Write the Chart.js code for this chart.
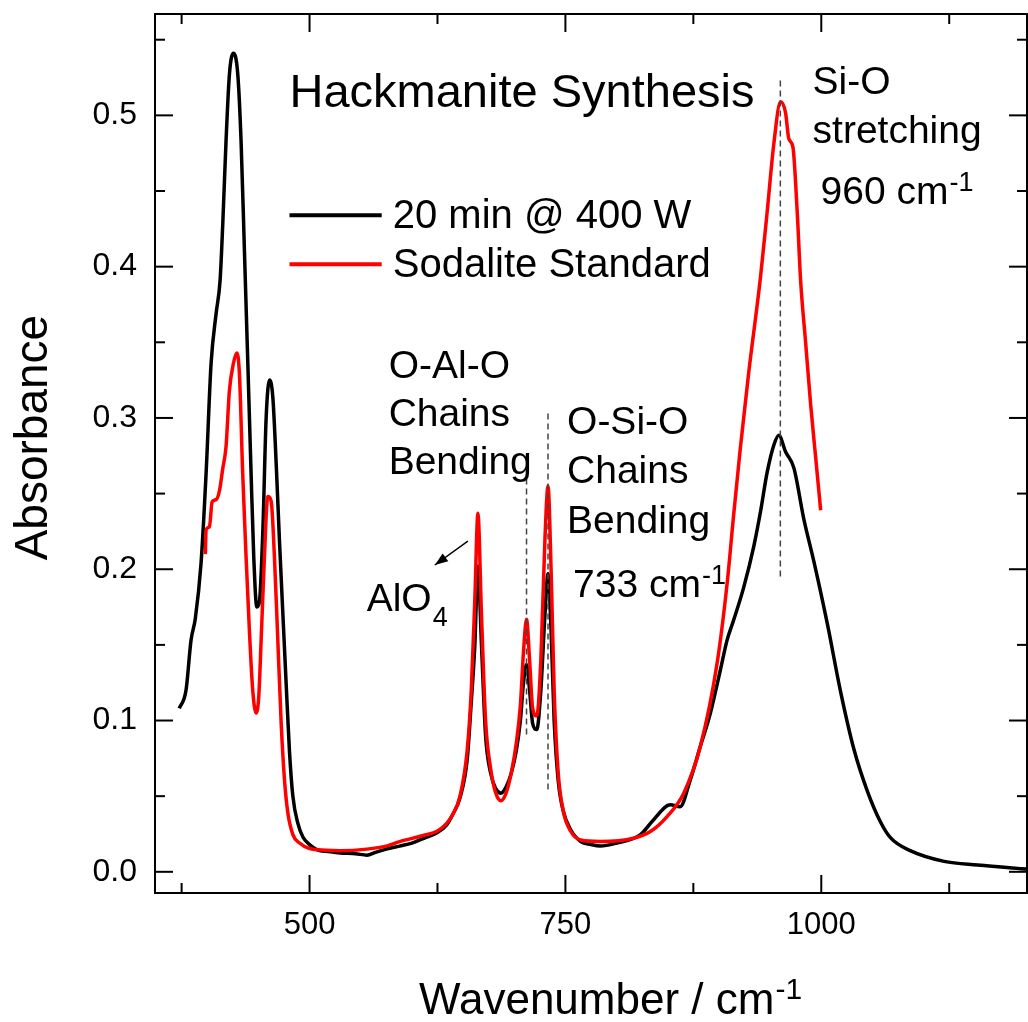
<!DOCTYPE html>
<html lang="en">
<head>
<meta charset="UTF-8">
<title>Hackmanite Synthesis</title>
<script src="https://cdn.jsdelivr.net/npm/chart.js"></script>
<style>
  html, body { margin: 0; padding: 0; background: #fff; }
  #wrap { width: 1028px; height: 1022px; }
</style>
</head>
<body>
<div id="wrap"><canvas id="chart"></canvas></div>
<script>
const FONT = "'Liberation Sans', Arial, sans-serif";

// 20 min @ 400 W (black)
const blackX = [372.7, 379.3, 384.2, 388.4, 394, 398.9, 403.8, 408.7, 412.6, 415.2, 418.4, 421.7, 425.6, 429.9, 433.1, 436.4, 439.7, 442.9, 445.5, 448.5, 451.1, 454.4, 457.6, 460.9, 464.1, 467.4, 470.6, 473.9, 477.2, 480.4, 483.7, 488.6, 493.5, 500, 509.8, 518, 530, 545, 556, 565, 575, 588, 600, 611, 625, 634, 640, 647, 654, 658, 661.5, 664.5, 668, 672, 677, 682, 687, 692, 697, 702, 706, 709, 712, 715, 718, 722, 726, 730, 733, 736, 739, 743, 748, 755, 765, 775, 784, 800, 823, 836, 852.5, 862, 872, 881.8, 891.6, 901.4, 907.9, 914.4, 924.2, 934, 940.6, 947.1, 953.6, 958.5, 965.1, 973.2, 983, 992.8, 1005.9, 1018.9, 1031.9, 1045, 1058, 1067.8, 1087.4, 1120, 1152.7, 1203.6];
const blackY = [0.108, 0.12, 0.153, 0.1675, 0.204, 0.263, 0.336, 0.369, 0.391, 0.428, 0.483, 0.527, 0.541, 0.527, 0.483, 0.41, 0.336, 0.263, 0.208, 0.175, 0.179, 0.226, 0.3, 0.325, 0.314, 0.27, 0.219, 0.171, 0.1235, 0.0795, 0.05, 0.032, 0.023, 0.018, 0.014, 0.0135, 0.0125, 0.012, 0.011, 0.013, 0.015, 0.017, 0.019, 0.022, 0.026, 0.031, 0.038, 0.049, 0.074, 0.112, 0.15, 0.202, 0.15, 0.09, 0.065, 0.055, 0.052, 0.056, 0.065, 0.08, 0.1, 0.125, 0.137, 0.12, 0.098, 0.094, 0.12, 0.17, 0.197, 0.16, 0.1, 0.06, 0.04, 0.028, 0.02, 0.018, 0.017, 0.019, 0.0244, 0.0343, 0.0443, 0.043, 0.0608, 0.0828, 0.1048, 0.1334, 0.153, 0.1664, 0.188, 0.215, 0.238, 0.264, 0.282, 0.2886, 0.2776, 0.267, 0.233, 0.205, 0.164, 0.119, 0.081, 0.0534, 0.0328, 0.0224, 0.0138, 0.0069, 0.0045, 0.0017];

// Sodalite Standard (red)
const redX = [398.2, 398.9, 402.2, 404.8, 408.7, 412, 415.2, 418.4, 421.7, 425.6, 428.9, 431.5, 434.7, 438, 441.2, 444.5, 447.8, 450.4, 452.7, 455.9, 459.2, 462.5, 465.7, 469, 472.3, 475.5, 478.8, 483.7, 490.2, 500, 516, 530, 556, 575, 588, 611, 625, 634, 640, 647, 654, 658, 661.5, 664.5, 668, 672, 677, 682, 687, 692, 697, 702, 706, 709, 712, 715, 718, 722, 726, 730, 733, 736, 739, 743, 748, 755, 765, 784, 816.6, 833, 849.3, 865.6, 881.8, 898.2, 907.9, 914.4, 920.9, 929.1, 940.6, 947.1, 953.6, 960.2, 965.1, 968.3, 972.3, 976.5, 979.8, 984.7, 989.6, 994.5, 999.4];
const redY = [0.21, 0.226, 0.228, 0.2445, 0.246, 0.252, 0.2665, 0.281, 0.318, 0.336, 0.343, 0.329, 0.263, 0.208, 0.16, 0.12, 0.105, 0.116, 0.153, 0.208, 0.248, 0.245, 0.208, 0.153, 0.098, 0.061, 0.039, 0.0246, 0.019, 0.0154, 0.0143, 0.014, 0.015, 0.017, 0.02, 0.024, 0.027, 0.032, 0.038, 0.05, 0.08, 0.12, 0.18, 0.237, 0.17, 0.1, 0.068, 0.052, 0.047, 0.052, 0.065, 0.085, 0.11, 0.145, 0.167, 0.14, 0.108, 0.103, 0.14, 0.22, 0.255, 0.2, 0.12, 0.065, 0.04, 0.027, 0.021, 0.02, 0.0222, 0.0266, 0.0365, 0.052, 0.0828, 0.1378, 0.19, 0.236, 0.28, 0.33, 0.393, 0.436, 0.481, 0.509, 0.5017, 0.4845, 0.479, 0.436, 0.391, 0.35, 0.309, 0.274, 0.239];

const xMajorTicks = [500, 750, 1000];
const xMinorTicks = [375, 625, 875, 1125];
const yMajorTicks = [0, 0.1, 0.2, 0.3, 0.4, 0.5];
const yMinorTicks = [0.05, 0.15, 0.25, 0.35, 0.45, 0.55];

// dashed guides at the peak positions
const guideX = [712, 733, 960];
const guideFrom = [0.089, 0.054, 0.194];
const guideTo = [0.26, 0.303, 0.523];

// text notes, placed in data units (x = left edge, y = baseline)
const notes = [
  { text: 'Hackmanite Synthesis', x: 480.4, y: 0.5053, size: 47 },
  { text: 'O-Al-O', x: 577.3, y: 0.3263, size: 39 },
  { text: 'Chains', x: 577.3, y: 0.2946, size: 39 },
  { text: 'Bending', x: 577.3, y: 0.2629, size: 39 },
  { text: 'AlO', x: 555.8, y: 0.1724, size: 39, sub: '4' },
  { text: 'O-Si-O', x: 751.6, y: 0.2893, size: 39 },
  { text: 'Chains', x: 751.6, y: 0.2569, size: 39 },
  { text: 'Bending', x: 751.6, y: 0.2239, size: 39 },
  { text: '733 cm', x: 757.5, y: 0.1816, size: 39, sup: '-1' },
  { text: 'Si-O', x: 991.5, y: 0.5139, size: 39 },
  { text: 'stretching', x: 991.5, y: 0.4815, size: 39 },
  { text: '960 cm', x: 999.3, y: 0.4412, size: 39, sup: '-1' }
];

// AlO4 arrow: tail -> head
const arrowX = [654.7, 622.4];
const arrowY = [0.2186, 0.2028];

// legend rows
const legendLineX = [480.4, 570.5];
const legendTextX = 581.3;
const legendRowY = [0.434, 0.4016];

function drawNote(ctx, n, px, py) {
  ctx.font = n.size + 'px ' + FONT;
  ctx.fillText(n.text, px, py);
  const w = ctx.measureText(n.text).width;
  if (n.sup) {
    ctx.font = Math.round(n.size * 0.68) + 'px ' + FONT;
    ctx.fillText(n.sup, px + w + 1, py - n.size * 0.33);
  }
  if (n.sub) {
    ctx.font = Math.round(n.size * 0.68) + 'px ' + FONT;
    ctx.fillText(n.sub, px + w + 1, py + n.size * 0.38);
  }
}

const framePlugin = {
  id: 'frame',
  afterDraw(chart) {
    const { ctx, chartArea: a, scales: { x, y } } = chart;
    ctx.save();
    ctx.strokeStyle = '#000';
    ctx.lineWidth = 2;
    ctx.strokeRect(a.left, a.top, a.right - a.left, a.bottom - a.top);
    const seg = (x1, y1, x2, y2) => { ctx.beginPath(); ctx.moveTo(x1, y1); ctx.lineTo(x2, y2); ctx.stroke(); };
    const xt = (v, len) => { const p = x.getPixelForValue(v); seg(p, a.bottom, p, a.bottom - len); seg(p, a.top, p, a.top + len); };
    const yt = (v, len) => { const p = y.getPixelForValue(v); seg(a.left, p, a.left + len, p); seg(a.right, p, a.right - len, p); };
    xMajorTicks.forEach(v => xt(v, 18));
    xMinorTicks.forEach(v => xt(v, 10));
    yMajorTicks.forEach(v => yt(v, 18));
    yMinorTicks.forEach(v => yt(v, 10));
    ctx.restore();
  }
};

const notesPlugin = {
  id: 'notes',
  afterDatasetsDraw(chart) {
    const { ctx, chartArea: a, scales: { x, y } } = chart;
    ctx.save();
    // dashed guides
    ctx.strokeStyle = '#444';
    ctx.lineWidth = 1.5;
    ctx.setLineDash([6, 4]);
    guideX.forEach((g, i) => {
      const p = x.getPixelForValue(g);
      ctx.beginPath();
      ctx.moveTo(p, y.getPixelForValue(guideTo[i]));
      ctx.lineTo(p, y.getPixelForValue(guideFrom[i]));
      ctx.stroke();
    });
    ctx.setLineDash([]);

    // arrow to AlO4 label
    const x1 = x.getPixelForValue(arrowX[0]), y1 = y.getPixelForValue(arrowY[0]);
    const x2 = x.getPixelForValue(arrowX[1]), y2 = y.getPixelForValue(arrowY[1]);
    ctx.strokeStyle = '#000';
    ctx.fillStyle = '#000';
    ctx.beginPath(); ctx.moveTo(x1, y1); ctx.lineTo(x2, y2); ctx.stroke();
    const ang = Math.atan2(y2 - y1, x2 - x1);
    ctx.beginPath();
    ctx.moveTo(x2, y2);
    ctx.lineTo(x2 - 14 * Math.cos(ang - 0.35), y2 - 14 * Math.sin(ang - 0.35));
    ctx.lineTo(x2 - 14 * Math.cos(ang + 0.35), y2 - 14 * Math.sin(ang + 0.35));
    ctx.closePath();
    ctx.fill();

    // text notes
    ctx.textAlign = 'left';
    ctx.textBaseline = 'alphabetic';
    notes.forEach(n => drawNote(ctx, n, x.getPixelForValue(n.x), y.getPixelForValue(n.y)));

    // legend
    chart.data.datasets.forEach((ds, i) => {
      const py = y.getPixelForValue(legendRowY[i]);
      ctx.strokeStyle = ds.borderColor;
      ctx.lineWidth = 4;
      ctx.beginPath();
      ctx.moveTo(x.getPixelForValue(legendLineX[0]), py);
      ctx.lineTo(x.getPixelForValue(legendLineX[1]), py);
      ctx.stroke();
      ctx.fillStyle = '#000';
      ctx.font = '40px ' + FONT;
      ctx.fillText(ds.label, x.getPixelForValue(legendTextX), py + 13);
    });

    // axis titles
    drawNote(ctx, { text: 'Wavenumber / cm', size: 44, sup: '-1' }, x.getPixelForValue(607), a.bottom + 121);
    ctx.translate(47, y.getPixelForValue(0.287));
    ctx.rotate(-Math.PI / 2);
    ctx.textAlign = 'center';
    ctx.font = '46px ' + FONT;
    ctx.fillText('Absorbance', 0, 0);
    ctx.restore();
  }
};

// drop the automatic label overhang padding so the plot box is exact
const noPad = s => { s.paddingTop = 0; s.paddingBottom = 0; s.paddingLeft = 0; s.paddingRight = 0; };

new Chart(document.getElementById('chart'), {
  type: 'scatter',
  data: {
    datasets: [
      {
        label: '20 min @ 400 W',
        data: blackX.map((v, i) => ({ x: v, y: blackY[i] })),
        borderColor: '#000000',
        order: 1
      },
      {
        label: 'Sodalite Standard',
        data: redX.map((v, i) => ({ x: v, y: redY[i] })),
        borderColor: '#ff0000',
        order: 0
      }
    ]
  },
  options: {
    responsive: true,
    maintainAspectRatio: false,
    animation: false,
    datasets: {
      scatter: { showLine: true, pointRadius: 0, borderWidth: 3.5, cubicInterpolationMode: 'monotone' }
    },
    layout: { padding: { top: 14, right: 1, left: 0, bottom: 0 } },
    plugins: { legend: { display: false }, tooltip: { enabled: false } },
    scales: {
      x: {
        type: 'linear',
        min: 349,
        max: 1201,
        grid: { display: false, drawTicks: false },
        border: { display: false },
        afterBuildTicks: s => { s.ticks = xMajorTicks.map(v => ({ value: v })); },
        afterFit: s => { s.height = 129; noPad(s); },
        ticks: { color: '#000', font: { family: FONT, size: 31 }, padding: 14, maxRotation: 0, callback: v => v }
      },
      y: {
        type: 'linear',
        min: -0.014,
        max: 0.567,
        grid: { display: false, drawTicks: false },
        border: { display: false },
        afterBuildTicks: s => { s.ticks = yMajorTicks.map(v => ({ value: v })); },
        afterFit: s => { s.width = 155; noPad(s); },
        ticks: { color: '#000', font: { family: FONT, size: 32 }, padding: 18, callback: v => v.toFixed(1) }
      }
    }
  },
  plugins: [framePlugin, notesPlugin]
});
</script>
</body>
</html>
